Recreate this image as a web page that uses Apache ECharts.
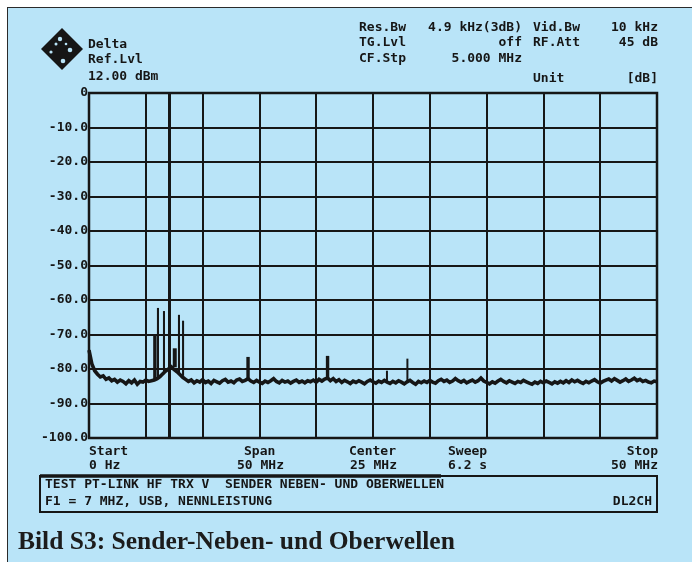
<!DOCTYPE html>
<html><head><meta charset="utf-8">
<script src="https://cdn.jsdelivr.net/npm/echarts@6/dist/echarts.min.js"></script>
<style>
html,body{margin:0;padding:0;background:#fff;}
#frame{position:absolute;left:7px;top:7px;width:685px;height:555px;background:#b9e4f8;border-top:1.5px solid #2b2b2b;border-left:1.5px solid #2b2b2b;box-sizing:border-box;}
#chart{position:absolute;left:0;top:0;width:692px;height:562px;}
</style></head><body><div id="frame"></div><div id="chart"></div>
<script>
// Sweep: 0..50 MHz, floor sampled every 0.25 MHz
const sweepStepMHz = 0.25;
const floorDb = [
 -74.5,-78.5,-80.5,-81.5,-82.3,-82.0,-83.0,-82.6,-83.4,-83.0,
 -83.8,-83.2,-83.6,-84.3,-83.4,-84.0,-83.2,-84.4,-83.6,-83.8,
 -83.2,-83.6,-83.4,-83.2,-82.8,-82.2,-81.4,-80.6,-80.0,-79.4,
 -80.2,-80.8,-81.6,-82.4,-83.0,-83.6,-83.2,-84.0,-83.4,-83.8,
 -83.1,-83.9,-83.5,-84.2,-83.3,-83.7,-84.1,-83.4,-83.0,-83.8,
 -83.5,-84.0,-83.2,-82.9,-83.6,-83.3,-82.8,-83.5,-83.9,-83.3,
 -83.8,-84.2,-83.5,-83.9,-83.4,-82.8,-83.6,-84.0,-83.3,-83.8,
 -83.5,-84.1,-83.6,-83.2,-83.9,-83.5,-84.0,-83.4,-83.7,-83.2,
 -83.8,-83.0,-83.5,-82.9,-82.6,-83.4,-82.8,-83.6,-83.1,-83.9,
 -83.3,-83.7,-84.2,-83.5,-83.9,-83.4,-83.8,-84.3,-83.6,-83.2,
 -83.7,-84.1,-83.5,-83.9,-83.3,-83.8,-84.2,-83.6,-84.0,-83.4,
 -83.8,-84.3,-83.7,-83.3,-83.9,-84.4,-83.6,-84.0,-83.5,-83.9,
 -83.3,-83.8,-84.1,-83.4,-83.0,-83.6,-83.2,-83.9,-83.5,-82.8,
 -83.4,-83.8,-83.3,-84.0,-83.6,-83.2,-83.8,-83.4,-82.6,-83.5,
 -83.9,-84.3,-83.7,-84.1,-83.5,-83.0,-83.6,-84.0,-83.4,-83.8,
 -84.2,-83.6,-83.9,-83.3,-83.7,-84.1,-84.4,-83.8,-84.2,-83.6,
 -84.0,-83.5,-83.9,-84.3,-83.7,-84.1,-83.6,-84.0,-83.4,-83.9,
 -83.2,-83.7,-83.3,-83.8,-84.2,-83.6,-84.0,-83.5,-83.1,-83.7,
 -84.1,-83.6,-83.2,-82.9,-83.5,-82.8,-83.3,-83.8,-83.4,-82.9,
 -83.6,-83.2,-82.7,-83.4,-83.0,-83.6,-83.3,-83.8,-84.0,-83.5,
 -83.7
];
// Spurious emissions / harmonics
const spurMHz      = [5.80, 6.07, 6.60, 7.55, 7.92, 8.28, 14.0, 21.0, 26.2, 28.0];
const spurTopDb    = [-70.0, -62.3, -63.2, -74.0, -64.3, -66.0, -76.5, -76.2, -80.5, -77.0];
const spurBaseDb   = [-83.0, -82.5, -81.5, -79.5, -81.0, -82.0, -83.0, -83.0, -83.5, -83.5];
const spurWidthMHz = [0.30, 0.18, 0.18, 0.35, 0.18, 0.18, 0.30, 0.30, 0.12, 0.12];
const markerMHz = 7.04;

const floorData = floorDb.map((v,i)=>[i*sweepStepMHz, v]);
const spurData = spurMHz.map((f,i)=>[f, spurTopDb[i], spurBaseDb[i], spurWidthMHz[i]]);

const INK = '#161616';
const MONO = 'bold 13px "DejaVu Sans Mono", monospace';
function T(x,y,text,align){
  return {type:'text', x:x, y:y, z:10, style:{text:text, font:MONO, fill:INK, align:align||'left', verticalAlign:'middle'}};
}

const chart = echarts.init(document.getElementById('chart'), null, {renderer:'canvas'});
chart.setOption({
  animation:false,
  grid:{left:89, top:93, width:568, height:345, show:true, borderColor:INK, borderWidth:2.5, backgroundColor:'transparent'},
  xAxis:{type:'value', min:0, max:50, interval:5,
    axisLabel:{show:false}, axisTick:{show:false}, axisLine:{show:false},
    splitLine:{show:true, lineStyle:{color:INK, width:2}}},
  yAxis:{type:'value', min:-100, max:0, interval:10,
    axisLine:{show:false}, axisTick:{show:false},
    axisLabel:{margin:1, color:INK, fontFamily:'DejaVu Sans Mono', fontWeight:'bold', fontSize:13,
      formatter:v=> v===0 ? '0' : v.toFixed(1)},
    splitLine:{show:true, lineStyle:{color:INK, width:2}}},
  series:[
    {type:'line', data:floorData, showSymbol:false, lineStyle:{color:INK, width:3.6, join:'miter'}, z:5,
     markLine:{silent:true, symbol:['none','none'], label:{show:false},
       lineStyle:{color:INK, width:3, type:'solid'}, data:[{xAxis:markerMHz}]}},
    {type:'custom', data:spurData, z:6,
     renderItem:function(params, api){
       const f=api.value(0), top=api.value(1), base=api.value(2), w=api.value(3);
       const p1=api.coord([f-w/2, top]); const p2=api.coord([f+w/2, base]);
       return {type:'rect', shape:{x:p1[0], y:p1[1], width:Math.max(p2[0]-p1[0],2), height:p2[1]-p1[1]}, style:{fill:INK}};
     }}
  ],
  graphic:[
    // logo
    {type:'polygon', shape:{points:[[62,28],[83,49],[62,70],[41,49]]}, style:{fill:INK}},
    {type:'circle', shape:{cx:60,cy:39,r:2.2}, style:{fill:'#b9e4f8'}},
    {type:'circle', shape:{cx:56,cy:44,r:1.5}, style:{fill:'#b9e4f8'}},
    {type:'circle', shape:{cx:70,cy:50,r:2.3}, style:{fill:'#b9e4f8'}},
    {type:'circle', shape:{cx:51,cy:52,r:1.6}, style:{fill:'#b9e4f8'}},
    {type:'circle', shape:{cx:63,cy:61,r:2.3}, style:{fill:'#b9e4f8'}},
    {type:'circle', shape:{cx:66,cy:44,r:1.3}, style:{fill:'#b9e4f8'}},
    // left header
    T(88,45,'Delta'), T(88,60,'Ref.Lvl'), T(88,77,'12.00 dBm'),
    // right header
    T(359,28,'Res.Bw'), T(522,28,'4.9 kHz(3dB)','right'), T(533,28,'Vid.Bw'), T(658,28,'10 kHz','right'),
    T(359,43,'TG.Lvl'), T(522,43,'off','right'), T(533,43,'RF.Att'), T(658,43,'45 dB','right'),
    T(359,59,'CF.Stp'), T(522,59,'5.000 MHz','right'),
    T(533,79,'Unit'), T(658,79,'[dB]','right'),
    // bottom labels
    T(89,452,'Start'), T(89,466,'0 Hz'),
    T(244,452,'Span'), T(237,466,'50 MHz'),
    T(349,452,'Center'), T(350,466,'25 MHz'),
    T(448,452,'Sweep'), T(448,466,'6.2 s'),
    T(658,452,'Stop','right'), T(658,466,'50 MHz','right'),
    // comment box
    {type:'rect', shape:{x:40,y:476,width:617,height:36}, style:{fill:'none', stroke:INK, lineWidth:2}},
    {type:'line', shape:{x1:40,y1:476,x2:441,y2:476}, style:{stroke:INK, lineWidth:3.5}},
    T(45,485,'TEST PT-LINK HF TRX V  SENDER NEBEN- UND OBERWELLEN'),
    T(45,502,'F1 = 7 MHZ, USB, NENNLEISTUNG'),
    T(652,502,'DL2CH','right'),
    // caption
    {type:'text', x:18, y:542, style:{text:'Bild S3: Sender-Neben- und Oberwellen', font:'bold 25.5px "Liberation Serif", serif', fill:'#1c1c1c', align:'left', verticalAlign:'middle'}}
  ]
});
</script></body></html>
